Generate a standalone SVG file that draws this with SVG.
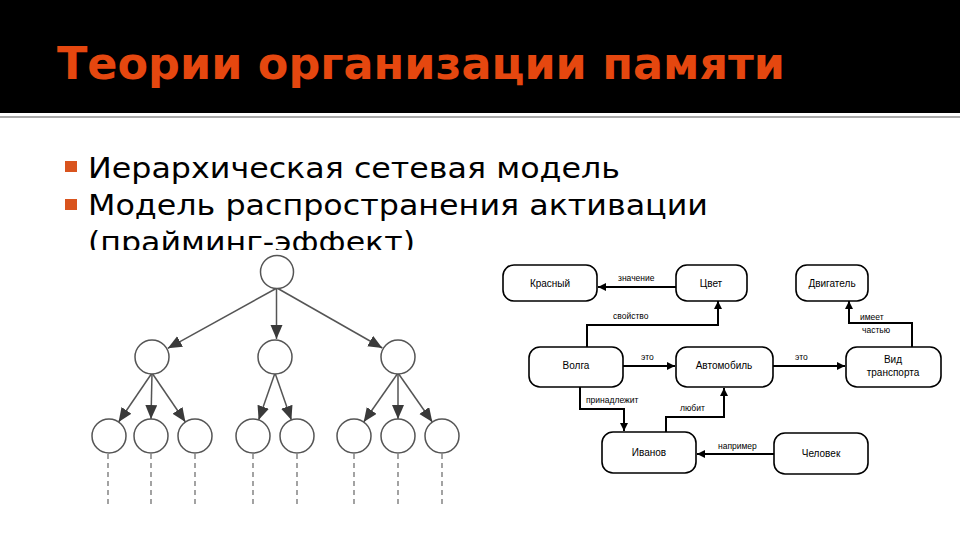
<svg xmlns="http://www.w3.org/2000/svg" width="960" height="540" viewBox="0 0 960 540">
<style>
.title{font-family:"DejaVu Sans","Noto Sans",sans-serif;font-weight:bold;font-size:44px;fill:#e5470f}
.body{font-family:"DejaVu Sans","Noto Sans",sans-serif;font-size:28px;fill:#000}
.circ{fill:#fff;stroke:#555;stroke-width:1.5}
.tl{stroke:#555;stroke-width:1.5;fill:none}
.dash{stroke:#666;stroke-width:1.2;stroke-dasharray:5,4}
.box{fill:#fff;stroke:#000;stroke-width:1.6}
.nl{font-family:"Liberation Sans",Arial,sans-serif;font-size:10px;fill:#000;text-anchor:middle}
.el{font-family:"Liberation Sans",Arial,sans-serif;font-size:8.5px;fill:#000}
.cl{stroke:#000;stroke-width:2;fill:none}
</style>
<defs>
<marker id="ta" markerUnits="userSpaceOnUse" markerWidth="15" markerHeight="13" refX="14" refY="6" orient="auto">
<path d="M0,0 L14,6 L0,12 z" fill="#3a3a3a"/>
</marker>
<marker id="ca" markerUnits="userSpaceOnUse" markerWidth="9" markerHeight="8" refX="8" refY="4" orient="auto">
<path d="M0,0 L8,4 L0,8 z" fill="#000"/>
</marker>
</defs>
<rect x="0" y="0" width="960" height="540" fill="#fff"/>
<rect x="0" y="0" width="960" height="113" fill="#000"/>
<rect x="0" y="116" width="960" height="2" fill="#aaa"/>
<text class="title" x="57" y="79" textLength="728" lengthAdjust="spacingAndGlyphs">Теории организации памяти</text>
<rect x="65" y="161" width="12" height="11" fill="#d9541e"/>
<rect x="65" y="199" width="12" height="11" fill="#d9541e"/>
<text class="body" x="88" y="178" textLength="532" lengthAdjust="spacingAndGlyphs">Иерархическая сетевая модель</text>
<text class="body" x="88" y="215" textLength="620" lengthAdjust="spacingAndGlyphs">Модель распространения активации</text>
<text class="body" x="88" y="252" textLength="327" lengthAdjust="spacingAndGlyphs">(прайминг-эффект)</text>
<rect x="80" y="250" width="880" height="290" fill="#fff"/>

<g id="tree-connectors">
<line class="tl" x1="277" y1="288" x2="167.8" y2="348.3" marker-end="url(#ta)"/>
<line class="tl" x1="276.5" y1="288" x2="276.5" y2="339" marker-end="url(#ta)"/>
<line class="tl" x1="277" y1="288" x2="382.3" y2="348" marker-end="url(#ta)"/>
<line class="tl" x1="152" y1="373" x2="118.6" y2="422" marker-end="url(#ta)"/>
<line class="tl" x1="152" y1="373" x2="151" y2="419" marker-end="url(#ta)"/>
<line class="tl" x1="152" y1="373" x2="185.4" y2="422" marker-end="url(#ta)"/>
<line class="tl" x1="275" y1="373" x2="258.6" y2="420" marker-end="url(#ta)"/>
<line class="tl" x1="275" y1="373" x2="291.4" y2="420" marker-end="url(#ta)"/>
<line class="tl" x1="398" y1="373" x2="363.7" y2="422" marker-end="url(#ta)"/>
<line class="tl" x1="398" y1="373" x2="398" y2="419" marker-end="url(#ta)"/>
<line class="tl" x1="398" y1="373" x2="432.3" y2="422" marker-end="url(#ta)"/>
<line class="dash" x1="108" y1="454" x2="108" y2="507"/>
<line class="dash" x1="151" y1="454" x2="151" y2="507"/>
<line class="dash" x1="195" y1="454" x2="195" y2="507"/>
<line class="dash" x1="253" y1="454" x2="253" y2="507"/>
<line class="dash" x1="297" y1="454" x2="297" y2="507"/>
<line class="dash" x1="354" y1="454" x2="354" y2="507"/>
<line class="dash" x1="398" y1="454" x2="398" y2="507"/>
<line class="dash" x1="442" y1="454" x2="442" y2="507"/>
</g>
<g id="t-root"><circle class="circ" cx="277" cy="272" r="16.5"/></g>
<g id="t-a"><circle class="circ" cx="152" cy="357" r="17"/></g>
<g id="t-b"><circle class="circ" cx="275" cy="357" r="17"/></g>
<g id="t-c"><circle class="circ" cx="398" cy="357" r="17"/></g>
<g id="t-a1"><circle class="circ" cx="109" cy="436" r="17"/></g>
<g id="t-a2"><circle class="circ" cx="151" cy="436" r="17"/></g>
<g id="t-a3"><circle class="circ" cx="195" cy="436" r="17"/></g>
<g id="t-b1"><circle class="circ" cx="253" cy="436" r="17"/></g>
<g id="t-b2"><circle class="circ" cx="297" cy="436" r="17"/></g>
<g id="t-c1"><circle class="circ" cx="354" cy="436" r="17"/></g>
<g id="t-c2"><circle class="circ" cx="398" cy="436" r="17"/></g>
<g id="t-c3"><circle class="circ" cx="442" cy="436" r="17"/></g>

<g id="net-connectors">
<line class="cl" x1="676" y1="287" x2="598" y2="287" marker-end="url(#ca)"/>
<text class="el" x="618" y="281">значение</text>
<polyline class="cl" points="587,347 587,325 718,325 718,301" marker-end="url(#ca)"/>
<text class="el" x="613" y="319">свойство</text>
<line class="cl" x1="623" y1="366" x2="675" y2="366" marker-end="url(#ca)"/>
<text class="el" x="641" y="360">это</text>
<line class="cl" x1="773" y1="366" x2="845" y2="366" marker-end="url(#ca)"/>
<text class="el" x="795" y="360">это</text>
<polyline class="cl" points="912,347 912,323 849,323 849,301" marker-end="url(#ca)"/>
<text class="el" x="860" y="320">имеет</text>
<text class="el" x="862" y="333">частью</text>
<polyline class="cl" points="580,387 580,409 624,409 624,431" marker-end="url(#ca)"/>
<text class="el" x="586" y="403">принадлежит</text>
<polyline class="cl" points="666,432 666,417 724,417 724,388" marker-end="url(#ca)"/>
<text class="el" x="680" y="411">любит</text>
<line class="cl" x1="774" y1="454" x2="697" y2="454" marker-end="url(#ca)"/>
<text class="el" x="718" y="449">например</text>
</g>
<g id="n-krasny"><rect class="box" x="503" y="265" width="94" height="36" rx="11"/><text class="nl" x="550" y="287">Красный</text></g>
<g id="n-cvet"><rect class="box" x="676" y="265" width="71" height="36" rx="11"/><text class="nl" x="711" y="287">Цвет</text></g>
<g id="n-dvig"><rect class="box" x="796" y="265" width="72" height="36" rx="11"/><text class="nl" x="832" y="287">Двигатель</text></g>
<g id="n-volga"><rect class="box" x="529" y="347" width="94" height="40" rx="11"/><text class="nl" x="576" y="369">Волга</text></g>
<g id="n-avto"><rect class="box" x="676" y="347" width="97" height="40" rx="11"/><text class="nl" x="724" y="369">Автомобиль</text></g>
<g id="n-vid"><rect class="box" x="846" y="347" width="95" height="40" rx="11"/><text class="nl" x="893" y="363">Вид</text><text class="nl" x="893" y="376">транспорта</text></g>
<g id="n-ivanov"><rect class="box" x="602" y="432" width="94" height="41" rx="11"/><text class="nl" x="649" y="456">Иванов</text></g>
<g id="n-chelovek"><rect class="box" x="774" y="433" width="94" height="41" rx="11"/><text class="nl" x="821" y="457">Человек</text></g>
</svg>
